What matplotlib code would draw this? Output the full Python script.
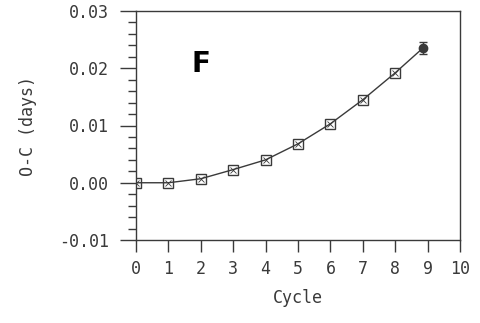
import numpy as np
import matplotlib.pyplot as plt
from matplotlib.ticker import MultipleLocator

# O-C values
cycle = [0, 1, 2, 3, 4, 5, 6, 7, 8]
oc = [0.0000, 0.0000, 0.0007, 0.0023, 0.0040, 0.0068, 0.0103, 0.0145, 0.0192]
last_cycle = [8.85]
last_oc = [0.0235]
last_err = [0.0010]

ink = "#3a3a3a"
plt.rcParams["font.family"] = "DejaVu Sans Mono"

fig = plt.figure(figsize=(4.8, 3.23), dpi=100)
ax = fig.add_axes([136 / 480, 1 - 240 / 323, 324 / 480, 229 / 323])

ax.plot(cycle + last_cycle, oc + last_oc, color=ink, lw=1.0)
ax.plot(cycle, oc, ls="none", marker="s", ms=7, mfc="none", mec=ink, mew=1.0)
ax.plot(cycle, oc, ls="none", marker="x", ms=5, mec=ink, mew=0.6)
ax.errorbar(last_cycle, last_oc, yerr=last_err, fmt="o", ms=6, color=ink,
            mfc=ink, capsize=3, elinewidth=1)

ax.set_xlim(0, 10)
ax.set_ylim(-0.01, 0.03)
ax.xaxis.set_major_locator(MultipleLocator(1))
ax.yaxis.set_major_locator(MultipleLocator(0.01))
ax.yaxis.set_minor_locator(MultipleLocator(0.002))
ax.yaxis.set_major_formatter(plt.FuncFormatter(lambda v, p: f"{v:.2f}"))

ax.tick_params(axis="y", which="major", direction="out", length=11.5, width=1,
               colors=ink, labelsize=12, pad=8)
ax.tick_params(axis="y", which="minor", direction="out", length=6, width=1, colors=ink)
ax.tick_params(axis="x", which="major", direction="out", length=8.5, width=1,
               colors=ink, labelsize=12, pad=6)
for s in ax.spines.values():
    s.set_color(ink)
    s.set_linewidth(1.0)

ax.set_xlabel("Cycle", fontsize=12, color=ink, labelpad=8)
ax.set_ylabel("O-C (days)", fontsize=12, color=ink, labelpad=16)
ax.text(2.0, 0.0207, "F", fontsize=20, fontweight="bold", family="DejaVu Sans",
        ha="center", va="center", color="black")

fig.savefig("out.png", dpi=100)
